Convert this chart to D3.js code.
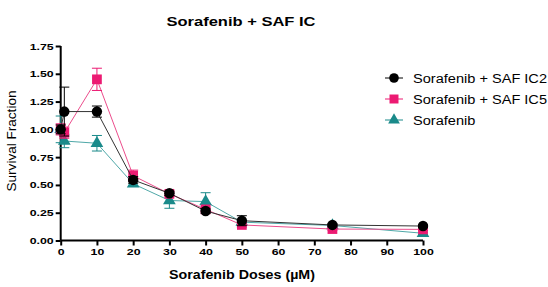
<!DOCTYPE html>
<html><head><meta charset="utf-8">
<script src="https://cdn.jsdelivr.net/npm/d3@7"></script>
<style>body{margin:0;background:#fff;} svg{display:block;font-family:"Liberation Sans",Arial,sans-serif;}</style>
</head><body>
<svg id="c" width="548" height="287"></svg>
<script>
const doses = [0, 1, 10, 20, 30, 40, 50, 75, 100];
const ic2 = [1.00, 1.16, 1.16, 0.545, 0.425, 0.265, 0.178, 0.14, 0.13];
const ic2Err = [0.04, 0.22, 0.05, 0.03, 0.02, 0.02, 0.045, 0.01, 0.01];
const ic5 = [1.00, 0.97, 1.45, 0.583, 0.42, 0.28, 0.14, 0.103, 0.10];
const ic5Err = [0.05, 0.05, 0.10, 0.05, 0.02, 0.02, 0.02, 0.01, 0.01];
const sora = [1.00, 0.895, 0.875, 0.51, 0.36, 0.35, 0.165, 0.135, 0.065];
const soraErr = [0.12, 0.06, 0.07, 0.02, 0.07, 0.08, 0.02, 0.01, 0.01];
const yTicks = [0, 0.25, 0.5, 0.75, 1.0, 1.25, 1.5, 1.75];
const xTicks = [0, 10, 20, 30, 40, 50, 60, 70, 80, 90, 100];
const seriesNames = ["Sorafenib + SAF IC2", "Sorafenib + SAF IC5", "Sorafenib"];

const svg = d3.select("#c");
const x = d3.scaleLinear().domain([0, 100]).range([60.7, 423]);
const y = d3.scaleLinear().domain([0, 1.75]).range([240.5, 46]);

function stretch(sel, k) {
  sel.each(function() {
    const L = this.getComputedTextLength();
    this.setAttribute("textLength", L * k);
    this.setAttribute("lengthAdjust", "spacingAndGlyphs");
  });
}
function fitTo(sel, w) {
  sel.attr("textLength", w).attr("lengthAdjust", "spacingAndGlyphs");
}

const series = [
  {name: seriesNames[2], vals: sora, err: soraErr, color: "#1a8a8a", line: "#4fa8a8", shape: d3.symbolTriangle, size: 70},
  {name: seriesNames[1], vals: ic5, err: ic5Err, color: "#ec1a72", line: "#ec4d8c", shape: d3.symbolSquare, size: 95},
  {name: seriesNames[0], vals: ic2, err: ic2Err, color: "#000000", line: "#333333", shape: d3.symbolCircle, size: 85}
];

// title
svg.append("text").attr("x", 241).attr("y", 25.5).attr("text-anchor", "middle")
  .attr("font-weight", "bold").attr("font-size", 12.5).text("Sorafenib + SAF IC").call(fitTo, 149);

// axes
const yAxis = svg.append("g").attr("transform", `translate(${x(0)},0)`)
  .call(d3.axisLeft(y).tickValues(yTicks).tickFormat(d3.format(".2f")).tickSize(5).tickPadding(2));
const xAxis = svg.append("g").attr("transform", `translate(0,${y(0)})`)
  .call(d3.axisBottom(x).tickValues(xTicks).tickFormat(d3.format("d")).tickSize(5).tickPadding(3));
[yAxis, xAxis].forEach(a => {
  a.select(".domain").attr("stroke", "#000").attr("stroke-width", 2);
  a.selectAll(".tick line").attr("stroke", "#000").attr("stroke-width", 2);
  a.selectAll(".tick text").attr("fill", "#000").attr("font-weight", "bold").attr("font-size", 9.5)
    .attr("font-family", '"Liberation Sans",Arial,sans-serif').call(stretch, 1.3);
});
yAxis.select(".domain").attr("d", `M-0,${y(1.75)}V${y(0)}`);
xAxis.select(".domain").attr("d", `M${x(0)},0H${x(100)}`);

// axis labels
svg.append("text").attr("transform", `translate(15.5,141) rotate(-90)`)
  .attr("text-anchor", "middle").attr("font-size", 12).text("Survival Fraction").call(fitTo, 101);
svg.append("text").attr("x", 242).attr("y", 279).attr("text-anchor", "middle")
  .attr("font-weight", "bold").attr("font-size", 12).text("Sorafenib Doses (\u00b5M)").call(fitTo, 146);

// series
series.forEach(s => {
  const g = svg.append("g");
  const line = d3.line().x((d, i) => x(doses[i])).y(d => y(d));
  g.append("path").datum(s.vals).attr("d", line).attr("fill", "none")
    .attr("stroke", s.line).attr("stroke-width", 1);
  s.vals.forEach((v, i) => {
    const cx = x(doses[i]), e = s.err[i];
    const y1 = y(v + e), y2 = y(v - e);
    g.append("line").attr("x1", cx).attr("x2", cx).attr("y1", y1).attr("y2", y2)
      .attr("stroke", s.color).attr("stroke-width", 1);
    [y1, y2].forEach(yy => g.append("line").attr("x1", cx - 5).attr("x2", cx + 5)
      .attr("y1", yy).attr("y2", yy).attr("stroke", s.color).attr("stroke-width", 1));
  });
  g.selectAll("path.m").data(s.vals).enter().append("path").attr("class", "m")
    .attr("transform", (d, i) => `translate(${x(doses[i])},${y(d)})`)
    .attr("d", d3.symbol().type(s.shape).size(s.size)).attr("fill", s.color);
});

// legend
const legendOrder = [series[2], series[1], series[0]];
const legTexts = [];
legendOrder.forEach((s, i) => {
  const ly = 78 + i * 21;
  svg.append("line").attr("x1", 385).attr("x2", 403).attr("y1", ly).attr("y2", ly)
    .attr("stroke", s.color).attr("stroke-width", 1);
  svg.append("path").attr("transform", `translate(394,${ly})`)
    .attr("d", d3.symbol().type(s.shape).size(s.size * 0.85)).attr("fill", s.color);
  legTexts.push(svg.append("text").attr("x", 413).attr("y", ly + 4.5).attr("font-size", 12.5).text(s.name));
});
const L0 = legTexts[0].node().getComputedTextLength();
const kLeg = 134 / L0;
legTexts.forEach(t => t.call(stretch, kLeg));
</script>
</body></html>
